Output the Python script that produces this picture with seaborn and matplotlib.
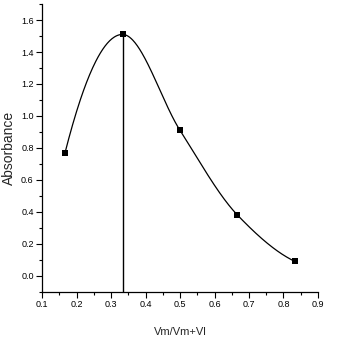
import matplotlib
matplotlib.use("Agg")
import matplotlib.pyplot as plt
import matplotlib.ticker as ticker
import numpy as np
import pandas as pd
import seaborn as sns

# data
mole_fraction = [1 / 6, 1 / 3, 1 / 2, 2 / 3, 5 / 6]
absorbance = [0.77, 1.51, 0.91, 0.38, 0.09]
x_ticks = [0.1, 0.2, 0.3, 0.4, 0.5, 0.6, 0.7, 0.8, 0.9]
y_ticks = [0.0, 0.2, 0.4, 0.6, 0.8, 1.0, 1.2, 1.4, 1.6]
peak_x = 1 / 3


def pchip(x, y, xs):
    # shape-preserving cubic through the measured points (smooth line as in the source)
    x = np.asarray(x, float)
    y = np.asarray(y, float)
    h = np.diff(x)
    delta = np.diff(y) / h
    n = len(x)
    m = np.zeros(n)
    for i in range(1, n - 1):
        if delta[i - 1] * delta[i] > 0:
            w1 = 2 * h[i] + h[i - 1]
            w2 = h[i] + 2 * h[i - 1]
            m[i] = (w1 + w2) / (w1 / delta[i - 1] + w2 / delta[i])
    for i0, i1, d0, d1, h0, h1 in [(0, 1, delta[0], delta[1], h[0], h[1]),
                                   (n - 1, n - 2, delta[-1], delta[-2], h[-1], h[-2])]:
        e = ((2 * h0 + h1) * d0 - h0 * d1) / (h0 + h1)
        if np.sign(e) != np.sign(d0):
            e = 0
        elif np.sign(d0) != np.sign(d1) and abs(e) > 3 * abs(d0):
            e = 3 * d0
        m[i0] = e
    out = np.empty_like(xs)
    for k, xv in enumerate(xs):
        i = min(max(np.searchsorted(x, xv) - 1, 0), n - 2)
        t = (xv - x[i]) / h[i]
        out[k] = ((2 * t ** 3 - 3 * t ** 2 + 1) * y[i]
                  + (t ** 3 - 2 * t ** 2 + t) * h[i] * m[i]
                  + (-2 * t ** 3 + 3 * t ** 2) * y[i + 1]
                  + (t ** 3 - t ** 2) * h[i] * m[i + 1])
    return out


df = pd.DataFrame({"x": mole_fraction, "y": absorbance})
xs = np.linspace(mole_fraction[0], mole_fraction[-1], 300)
curve = pd.DataFrame({"x": xs, "y": pchip(mole_fraction, absorbance, xs)})

sns.set_style("ticks")
plt.rcParams["font.family"] = ["Liberation Sans", "DejaVu Sans"]
plt.rcParams["xtick.direction"] = "out"
plt.rcParams["ytick.direction"] = "out"

fig = plt.figure(figsize=(3.39, 3.37), dpi=100)
ax = fig.add_axes([0.124, 0.134, 0.814, 0.854])

sns.lineplot(data=curve, x="x", y="y", color="black", linewidth=0.9, ax=ax)
sns.scatterplot(data=df, x="x", y="y", marker="s", s=14, color="black",
                edgecolor="black", linewidth=0, ax=ax, zorder=5)
ax.vlines(peak_x, -0.1, max(absorbance), color="black", linewidth=1.0)

ax.set_xlim(0.1, 0.9)
ax.set_ylim(-0.1, 1.7)
ax.set_xticks(x_ticks)
ax.set_yticks(y_ticks)
ax.xaxis.set_minor_locator(ticker.MultipleLocator(0.05))
ax.yaxis.set_minor_locator(ticker.MultipleLocator(0.1))
ax.xaxis.set_major_formatter(ticker.FormatStrFormatter("%.1f"))
ax.yaxis.set_major_formatter(ticker.FormatStrFormatter("%.1f"))

ax.tick_params(which="major", length=4, width=0.8, labelsize=6.5, pad=2, colors="black")
ax.tick_params(which="minor", length=2.5, width=0.8, colors="black")
for s in ["left", "bottom"]:
    ax.spines[s].set_linewidth(0.9)
    ax.spines[s].set_color("black")
sns.despine(ax=ax, top=True, right=True)

ax.set_xlabel("Vm/Vm+Vl", fontsize=8, labelpad=13)
ax.set_ylabel("Absorbance", fontsize=10, labelpad=4)

fig.savefig("out.png", dpi=100)
